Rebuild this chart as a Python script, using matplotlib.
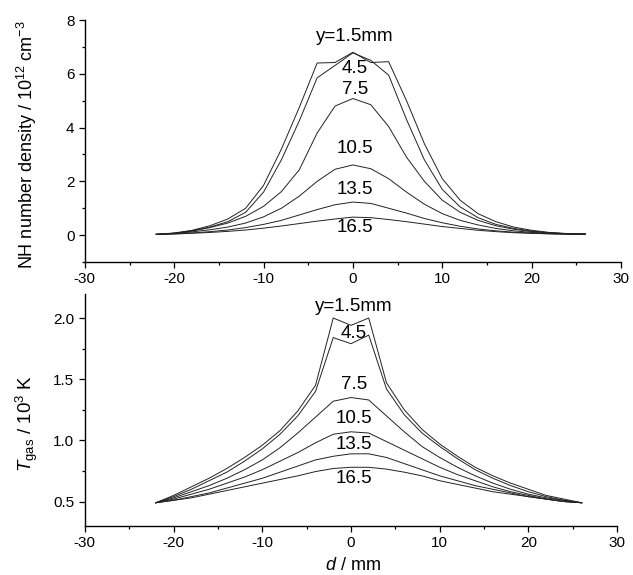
import matplotlib
matplotlib.use("Agg")
import matplotlib.pyplot as plt
from matplotlib.ticker import MultipleLocator

plt.rcParams['font.family'] = ['Liberation Sans', 'DejaVu Sans']
plt.rcParams['mathtext.fontset'] = 'custom'
plt.rcParams['mathtext.rm'] = 'Liberation Sans'
plt.rcParams['mathtext.it'] = 'Liberation Sans:italic'
plt.rcParams['axes.unicode_minus'] = False

# distance from centre, mm
d = [-22, -20, -18, -16, -14, -12, -10, -8, -6, -4, -2, 0, 2,
     4, 6, 8, 10, 12, 14, 16, 18, 20, 22, 24, 26]

labels = ['y=1.5mm', '4.5', '7.5', '10.5', '13.5', '16.5']

# NH number density / 1e12 cm^-3
nh_15 = [0.03, 0.08, 0.18, 0.35, 0.6, 1.0, 1.85, 3.2, 4.75, 6.4, 6.42, 6.8, 6.42,
         6.45, 5.0, 3.4, 2.1, 1.3, 0.8, 0.5, 0.3, 0.18, 0.1, 0.06, 0.05]
nh_45 = [0.03, 0.07, 0.16, 0.3, 0.5, 0.85, 1.6, 2.8, 4.25, 5.85, 6.31, 6.78, 6.5,
         5.95, 4.3, 2.8, 1.7, 1.05, 0.65, 0.4, 0.25, 0.15, 0.09, 0.05, 0.04]
nh_75 = [0.03, 0.07, 0.15, 0.28, 0.45, 0.7, 1.07, 1.62, 2.43, 3.8, 4.8, 5.08, 4.85,
         4.04, 2.9, 2.0, 1.3, 0.85, 0.55, 0.35, 0.22, 0.13, 0.08, 0.05, 0.04]
nh_105 = [0.03, 0.06, 0.12, 0.2, 0.3, 0.45, 0.68, 1.0, 1.45, 2.0, 2.45, 2.61, 2.47,
          2.1, 1.6, 1.15, 0.8, 0.55, 0.38, 0.25, 0.16, 0.1, 0.06, 0.04, 0.03]
nh_135 = [0.03, 0.05, 0.08, 0.13, 0.19, 0.28, 0.4, 0.55, 0.75, 0.95, 1.13, 1.23, 1.18,
          1.0, 0.82, 0.62, 0.46, 0.33, 0.23, 0.16, 0.11, 0.07, 0.05, 0.04, 0.03]
nh_165 = [0.03, 0.04, 0.07, 0.1, 0.14, 0.19, 0.26, 0.34, 0.43, 0.52, 0.6, 0.67, 0.65,
          0.58, 0.5, 0.41, 0.32, 0.25, 0.18, 0.13, 0.09, 0.07, 0.05, 0.04, 0.03]

# gas temperature / 1e3 K
tg_15 = [0.49, 0.55, 0.62, 0.69, 0.77, 0.86, 0.96, 1.08, 1.24, 1.45, 2.0, 1.94, 2.0,
         1.47, 1.25, 1.09, 0.97, 0.87, 0.78, 0.71, 0.65, 0.6, 0.55, 0.52, 0.49]
tg_45 = [0.49, 0.54, 0.6, 0.67, 0.74, 0.83, 0.93, 1.05, 1.2, 1.4, 1.84, 1.79, 1.86,
         1.42, 1.21, 1.06, 0.95, 0.85, 0.76, 0.69, 0.63, 0.58, 0.54, 0.51, 0.49]
tg_75 = [0.49, 0.53, 0.58, 0.63, 0.69, 0.76, 0.84, 0.94, 1.06, 1.19, 1.32, 1.35, 1.33,
         1.2, 1.07, 0.95, 0.86, 0.78, 0.71, 0.65, 0.6, 0.56, 0.53, 0.51, 0.49]
tg_105 = [0.49, 0.52, 0.56, 0.6, 0.65, 0.7, 0.76, 0.83, 0.9, 0.98, 1.05, 1.07, 1.06,
          0.99, 0.92, 0.85, 0.78, 0.72, 0.67, 0.62, 0.58, 0.55, 0.52, 0.5, 0.49]
tg_135 = [0.49, 0.51, 0.54, 0.57, 0.61, 0.65, 0.69, 0.74, 0.79, 0.84, 0.87, 0.89, 0.89,
          0.86, 0.81, 0.76, 0.71, 0.67, 0.63, 0.6, 0.57, 0.54, 0.52, 0.5, 0.49]
tg_165 = [0.49, 0.51, 0.53, 0.56, 0.59, 0.62, 0.65, 0.68, 0.71, 0.745, 0.77, 0.78, 0.78,
          0.765, 0.74, 0.71, 0.67, 0.64, 0.61, 0.58, 0.56, 0.54, 0.52, 0.5, 0.49]

nh_label_y = [7.38, 6.2, 5.4, 3.23, 1.71, 0.28]
tg_label_y = [2.095, 1.87, 1.46, 1.18, 0.97, 0.69]

nh_all = [nh_15, nh_45, nh_75, nh_105, nh_135, nh_165]
tg_all = [tg_15, tg_45, tg_75, tg_105, tg_135, tg_165]


def style_axes(ax):
    ax.spines['top'].set_visible(False)
    ax.spines['right'].set_visible(False)
    ax.set_xlim(-30, 30)
    ax.xaxis.set_major_locator(MultipleLocator(10))
    ax.xaxis.set_minor_locator(MultipleLocator(5))
    ax.tick_params(which='major', direction='out', length=4, width=0.9, labelsize=11)
    ax.tick_params(which='minor', direction='out', length=2.5, width=0.9)
    for s in ['left', 'bottom']:
        ax.spines[s].set_linewidth(1.0)


fig = plt.figure(figsize=(6.33, 5.75), dpi=100)

ax1 = fig.add_axes([0.134, 0.5443, 0.847, 0.4209])
for ys in nh_all:
    ax1.plot(d, ys, color='#222222', lw=0.7)
style_axes(ax1)
ax1.set_ylim(-1, 8)
ax1.set_yticks([0, 2, 4, 6, 8])
ax1.yaxis.set_minor_locator(MultipleLocator(1))
for lab, yy in zip(labels, nh_label_y):
    ax1.text(0.2, yy, lab, ha='center', va='center', fontsize=13.5)

ax2 = fig.add_axes([0.134, 0.0852, 0.841, 0.4043])
for ys in tg_all:
    ax2.plot(d, ys, color='#222222', lw=0.7)
style_axes(ax2)
ax2.set_ylim(0.3, 2.2)
ax2.set_yticks([0.5, 1.0, 1.5, 2.0])
ax2.yaxis.set_minor_locator(MultipleLocator(0.25))
for lab, yy in zip(labels, tg_label_y):
    ax2.text(0.3, yy, lab, ha='center', va='center', fontsize=13.5)

fig.text(27 / 633, 1 - 145 / 575, 'NH number density / 10$^{12}$ cm$^{-3}$',
         rotation=90, ha='center', va='center', fontsize=13)
fig.text(27 / 633, 1 - 423 / 575, '$T_{\\mathrm{gas}}$ / 10$^{3}$ K',
         rotation=90, ha='center', va='center', fontsize=13.5)
fig.text(353 / 633, 1 - 566 / 575, '$d$ / mm', ha='center', va='center', fontsize=13)

fig.savefig('out.png', dpi=100)
